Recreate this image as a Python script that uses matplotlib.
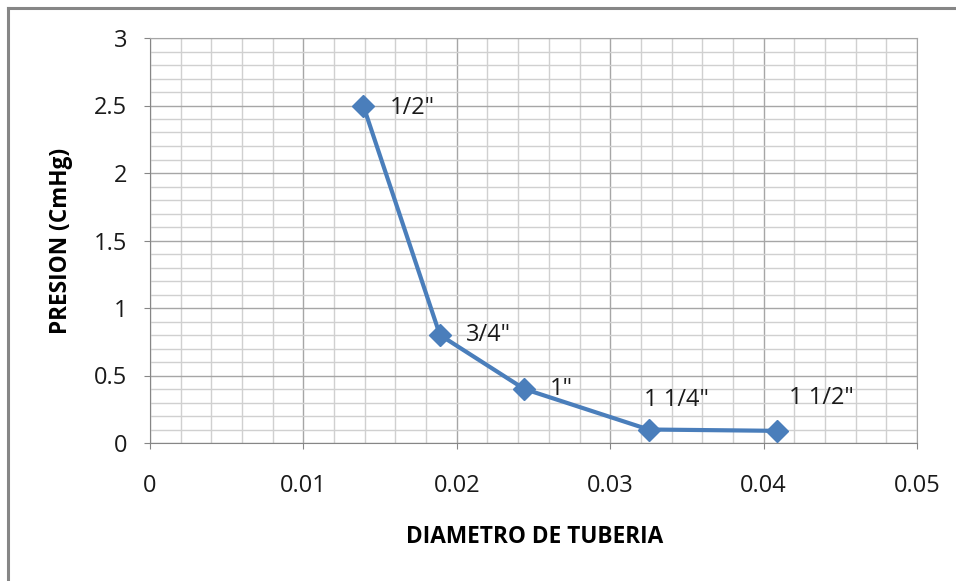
import matplotlib.pyplot as plt
from matplotlib.ticker import MultipleLocator
from matplotlib.lines import Line2D

# Data: pipe diameter vs pressure
diametro = [0.0139, 0.0189, 0.0244, 0.0325, 0.0409]
presion = [2.5, 0.8, 0.4, 0.1, 0.09]
etiquetas = ['1/2"', '3/4"', '1"', '1 1/4"', '1 1/2"']
# label offsets in pixels (right of / above the point)
offsets = [(27, -2), (26, 0), (26, 0), (-5, 30), (12, 33)]

xticks = [0, 0.01, 0.02, 0.03, 0.04, 0.05]
xtick_labels = ['0', '0.01', '0.02', '0.03', '0.04', '0.05']
yticks = [0, 0.5, 1, 1.5, 2, 2.5, 3]
ytick_labels = ['0', '0.5', '1', '1.5', '2', '2.5', '3']

plt.rcParams['font.family'] = ['Open Sans', 'DejaVu Sans']

fig = plt.figure(figsize=(9.56, 5.81), dpi=100)
ax = fig.add_axes([150 / 956, 1 - 443 / 581, 767 / 956, 405 / 581])

ax.plot(diametro, presion, color='#4A7EBB', linewidth=3, marker='D',
        markersize=11, zorder=3)

for x, y, txt, (dx, dy) in zip(diametro, presion, etiquetas, offsets):
    ax.annotate(txt, (x, y), xytext=(dx, dy), textcoords='offset pixels',
                fontsize=17, color='#1a1a1a', ha='left', va='center')

ax.set_xlim(0, 0.05)
ax.set_ylim(0, 3)
ax.set_xticks(xticks)
ax.set_xticklabels(xtick_labels)
ax.set_yticks(yticks)
ax.set_yticklabels(ytick_labels)
ax.xaxis.set_minor_locator(MultipleLocator(0.002))
ax.yaxis.set_minor_locator(MultipleLocator(0.1))

ax.grid(which='major', color='#A6A6A6', linewidth=1)
ax.grid(which='minor', color='#D0D0D0', linewidth=1)
ax.set_axisbelow(True)

for s in ax.spines.values():
    s.set_color('#A6A6A6')
ax.spines['left'].set_color('#868686')
ax.spines['bottom'].set_color('#868686')

ax.tick_params(which='major', length=4.5, color='#868686', labelsize=17,
               labelcolor='#1a1a1a')
ax.tick_params(axis='x', which='major', pad=18)
ax.tick_params(axis='y', which='major', pad=12)
ax.tick_params(which='minor', length=0)

ax.set_xlabel('DIAMETRO DE TUBERIA', fontsize=16.3, fontweight='bold')
ax.set_ylabel('PRESION (CmHg)', fontsize=16.3, fontweight='bold')
ax.xaxis.label.set_va('center')
ax.xaxis.set_label_coords(0.501, -0.232)
ax.yaxis.label.set_va('center')
ax.yaxis.set_label_coords(-0.116, 0.5)

# outer chart frame (only top and left visible)
fig.add_artist(Line2D([8 / 956, 1], [1 - 8 / 581, 1 - 8 / 581],
                      color='#868686', linewidth=2.2, transform=fig.transFigure))
fig.add_artist(Line2D([8 / 956, 8 / 956], [0, 1 - 8 / 581],
                      color='#868686', linewidth=2.2, transform=fig.transFigure))

fig.savefig('out.png', dpi=100)
